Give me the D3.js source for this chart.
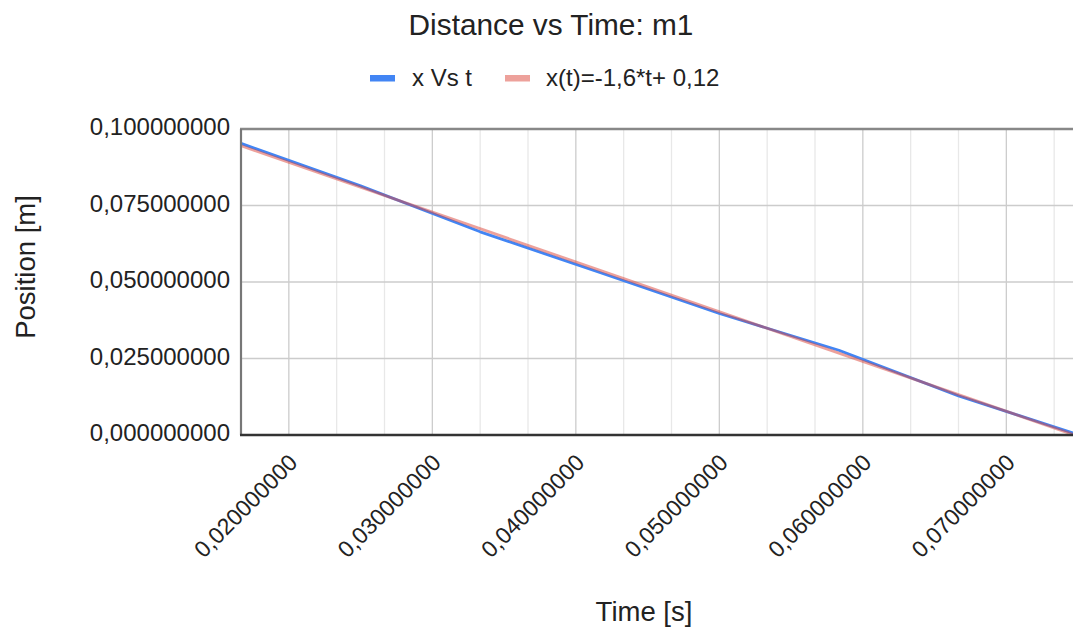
<!DOCTYPE html>
<html>
<head>
<meta charset="utf-8">
<script src="https://cdn.jsdelivr.net/npm/d3@7"></script>
<style>
  html, body { margin: 0; padding: 0; background: #fff; }
  svg { display: block; font-family: "Liberation Sans", Arial, sans-serif; }
</style>
</head>
<body>
<svg id="chart" width="1073" height="630"></svg>
<script>
// Measured samples of m1: time (s) and position (m), 120 frames per second
const times = [1/60, 0.025, 1/30, 0.125/3, 0.05, 0.175/3, 0.2/3, 0.075];
const positions = [0.0953, 0.0814, 0.0664, 0.0531, 0.0397, 0.0277, 0.0128, 0.0001];

const seriesName = "x Vs t";
const chartTitle = "Distance vs Time: m1";
const xTitle = "Time [s]";
const yTitle = "Position [m]";
const xTickValues = [0.02, 0.03, 0.04, 0.05, 0.06, 0.07];
const yTickValues = [0, 0.025, 0.05, 0.075, 0.1];

(function () {
const locale = d3.formatLocale({ decimal: ",", thousands: ".", grouping: [3], currency: ["", ""], minus: "-" });
const tickFmt = locale.format(".9f");
const coefFmt = locale.format(".2r");

// Least-squares line through the samples
const n = times.length;
const mt = d3.mean(times), mp = d3.mean(positions);
let sxy = 0, sxx = 0;
for (let i = 0; i < n; i++) {
  sxy += (times[i] - mt) * (positions[i] - mp);
  sxx += (times[i] - mt) * (times[i] - mt);
}
const slope = sxy / sxx;
const intercept = mp - slope * mt;
const fitLabel = `x(t)=${coefFmt(slope)}*t+ ${coefFmt(intercept)}`;

const svg = d3.select("#chart");
const plotLeft = 241, plotTop = 129, plotBottom = 435;
const pxPerSecond = 14350;
const tMin = d3.min(times), tMax = d3.max(times);
const x = d3.scaleLinear().domain([tMin, tMax]).range([plotLeft, plotLeft + (tMax - tMin) * pxPerSecond]);
const y = d3.scaleLinear().domain([0, 0.1]).range([plotBottom, plotTop]);
const plotRight = x.range()[1];

svg.append("rect").attr("width", 1073).attr("height", 630).attr("fill", "#fff");

// Vertical gridlines every 1/300 s, darker on whole hundredths
const minorTimes = d3.range(Math.ceil(tMin * 300 - 1e-6), Math.floor(tMax * 300 + 1e-6) + 1).map(k => k / 300);
svg.append("g").selectAll("line").data(minorTimes).join("line")
  .attr("x1", d => x(d)).attr("x2", d => x(d))
  .attr("y1", plotTop).attr("y2", plotBottom)
  .attr("stroke", d => xTickValues.some(v => Math.abs(v - d) < 1e-6) ? "#cccccc" : "#e8e8e8")
  .attr("stroke-width", 1.3);

// Horizontal gridlines
svg.append("g").selectAll("line").data(yTickValues).join("line")
  .attr("x1", plotLeft).attr("x2", plotRight)
  .attr("y1", d => y(d)).attr("y2", d => y(d))
  .attr("stroke", "#cccccc").attr("stroke-width", 1.3);

const plot = svg.append("g");
plot.append("path")
  .datum(times.map((t, i) => [t, positions[i]]))
  .attr("fill", "none").attr("stroke", "#4285f4").attr("stroke-width", 2.8)
  .attr("stroke-linejoin", "round")
  .attr("d", d3.line().x(d => x(d[0])).y(d => y(d[1])));

plot.append("path")
  .datum([tMin, tMax].map(t => [t, slope * t + intercept]))
  .attr("fill", "none").attr("stroke", "#db4437").attr("stroke-opacity", 0.5).attr("stroke-width", 2.8)
  .attr("d", d3.line().x(d => x(d[0])).y(d => y(d[1])));

// Frame
svg.append("line").attr("x1", plotLeft - 1).attr("x2", plotRight).attr("y1", plotTop).attr("y2", plotTop)
  .attr("stroke", "#888").attr("stroke-width", 2.6);
svg.append("line").attr("x1", plotLeft).attr("x2", plotLeft).attr("y1", plotTop).attr("y2", plotBottom)
  .attr("stroke", "#777").attr("stroke-width", 2.2);
svg.append("line").attr("x1", plotLeft - 1).attr("x2", plotRight).attr("y1", plotBottom).attr("y2", plotBottom)
  .attr("stroke", "#333").attr("stroke-width", 2.6);

// Y tick labels
svg.append("g").selectAll("text").data(yTickValues).join("text")
  .attr("x", 230).attr("y", d => y(d) + 6)
  .attr("text-anchor", "end").attr("font-size", 24).attr("fill", "#222")
  .text(d => tickFmt(d));

// X tick labels, rotated
svg.append("g").selectAll("text").data(xTickValues).join("text")
  .attr("transform", d => `translate(${x(d) + 10},464) rotate(-45)`)
  .attr("text-anchor", "end").attr("font-size", 23).attr("fill", "#222")
  .text(d => tickFmt(d));

// Titles
svg.append("text").attr("x", 551).attr("y", 35).attr("text-anchor", "middle")
  .attr("font-size", 29.8).attr("fill", "#222").text(chartTitle);
svg.append("text").attr("x", 644).attr("y", 621).attr("text-anchor", "middle")
  .attr("font-size", 27.5).attr("fill", "#222").text(xTitle);
svg.append("text").attr("transform", "translate(35,267) rotate(-90)").attr("text-anchor", "middle")
  .attr("font-size", 27.5).attr("fill", "#222").text(yTitle);

// Legend
const legend = svg.append("g");
legend.append("rect").attr("x", 370).attr("y", 75).attr("width", 25).attr("height", 6.5).attr("fill", "#4285f4");
legend.append("text").attr("x", 412).attr("y", 86).attr("font-size", 24).attr("fill", "#222").text(seriesName);
legend.append("rect").attr("x", 505).attr("y", 75).attr("width", 25).attr("height", 6.5).attr("fill", "#db4437").attr("fill-opacity", 0.5);
legend.append("text").attr("x", 546).attr("y", 86).attr("font-size", 24).attr("fill", "#222").text(fitLabel);
})();
</script>
</body>
</html>
